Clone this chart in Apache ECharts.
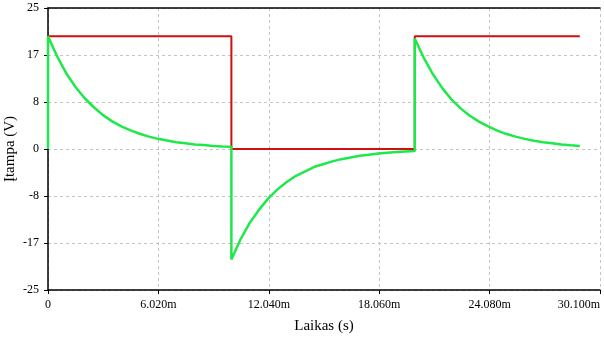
<!DOCTYPE html>
<html>
<head>
<meta charset="utf-8">
<script src="https://cdn.jsdelivr.net/npm/echarts@6/dist/echarts.min.js"></script>
<style>
  html, body { margin: 0; padding: 0; background: #fff; }
  #chart { width: 604px; height: 337px; }
</style>
</head>
<body>
<div id="chart"></div>
<script>
// laikas, ms
var redTime = [0, 10, 10, 20, 20, 29];
var redVolt = [20, 20, 0, 0, 20, 20];

var greenTime = [0, 0, 0.5, 1, 1.5, 2, 2.5, 3, 3.5, 4, 4.5, 5, 5.5, 6, 6.5, 7, 7.5, 8, 8.5, 9, 9.5, 10,
  10, 10.5, 11, 11.5, 12, 12.5, 13, 13.5, 14, 14.5, 15, 15.5, 16, 16.5, 17, 17.5, 18, 18.5, 19, 19.5, 20,
  20, 20.5, 21, 21.5, 22, 22.5, 23, 23.5, 24, 24.5, 25, 25.5, 26, 26.5, 27, 27.5, 28, 28.5, 29];
var greenVolt = [0, 20, 16.4, 13.4, 11.0, 9.0, 7.4, 6.0, 4.9, 4.0, 3.3, 2.7, 2.2, 1.8, 1.5, 1.2, 1.0, 0.8, 0.7, 0.55, 0.45, 0.4,
  -19.6, -16.0, -13.1, -10.8, -8.8, -7.2, -5.9, -4.8, -4.0, -3.2, -2.7, -2.2, -1.8, -1.5, -1.2, -1.0, -0.8, -0.65, -0.55, -0.45, -0.35,
  19.6, 16.1, 13.2, 10.8, 8.8, 7.2, 5.9, 4.85, 4.0, 3.25, 2.65, 2.2, 1.8, 1.45, 1.2, 1.0, 0.8, 0.65, 0.55];

var xTicks = [0, 6.02, 12.04, 18.06, 24.08, 30.1];
var xTickLabels = ['0', '6.020m', '12.040m', '18.060m', '24.080m', '30.100m'];
var yTickLabels = ['-25', '-17', '-8', '0', '8', '17', '25'];

function pairs(xs, ys) {
  return xs.map(function (x, i) { return [x, ys[i]]; });
}

var chart = echarts.init(document.getElementById('chart'));
var serif = 'Liberation Serif';
var gridLine = { show: true, lineStyle: { color: '#c4c4c4', type: [3, 3], width: 1 } };

chart.setOption({
  animation: false,
  grid: { left: 48, right: 4, top: 8, bottom: 47, containLabel: false, outerBoundsMode: 'none' },
  xAxis: [{
    type: 'value',
    min: 0,
    max: 30.1,
    interval: 6.02,
    name: 'Laikas (s)',
    nameLocation: 'middle',
    nameGap: 29,
    nameTextStyle: { fontFamily: serif, fontSize: 15, color: '#000' },
    axisLine: { onZero: false, lineStyle: { color: '#000', width: 1.5 } },
    axisTick: { show: true, length: 4, lineStyle: { color: '#000' } },
    axisLabel: {
      fontFamily: serif, fontSize: 12, color: '#000', margin: 9,
      alignMaxLabel: 'right',
      formatter: function (v) {
        for (var i = 0; i < xTicks.length; i++) {
          if (Math.abs(v - xTicks[i]) < 1e-6) return xTickLabels[i];
        }
        return '';
      }
    },
    splitLine: gridLine
  }, {
    type: 'value',
    position: 'top',
    min: 0,
    max: 30.1,
    axisLine: { show: true, onZero: false, lineStyle: { color: '#000', width: 1.5 } },
    axisTick: { show: false },
    axisLabel: { show: false },
    splitLine: { show: false }
  }],
  yAxis: {
    type: 'value',
    min: -25,
    max: 25,
    interval: 25 / 3,
    name: 'Įtampa (V)',
    nameLocation: 'middle',
    nameGap: 30,
    nameMoveOverlap: false,
    nameTextStyle: { fontFamily: serif, fontSize: 15, color: '#000' },
    axisLine: { show: true, onZero: false, lineStyle: { color: '#000', width: 1.5 } },
    axisTick: { show: true, length: 4, lineStyle: { color: '#000' } },
    axisLabel: {
      fontFamily: serif, fontSize: 12, color: '#000', margin: 9,
      formatter: function (v) {
        var idx = Math.round((v + 25) / (25 / 3));
        return yTickLabels[idx];
      }
    },
    splitLine: gridLine
  },
  series: [{
    type: 'line',
    data: pairs(redTime, redVolt),
    showSymbol: false,
    lineStyle: { color: '#d01010', width: 2 },
    z: 2
  }, {
    type: 'line',
    data: pairs(greenTime, greenVolt),
    showSymbol: false,
    lineStyle: { color: '#1fe84a', width: 2.5 },
    z: 3
  }]
});
</script>
</body>
</html>
